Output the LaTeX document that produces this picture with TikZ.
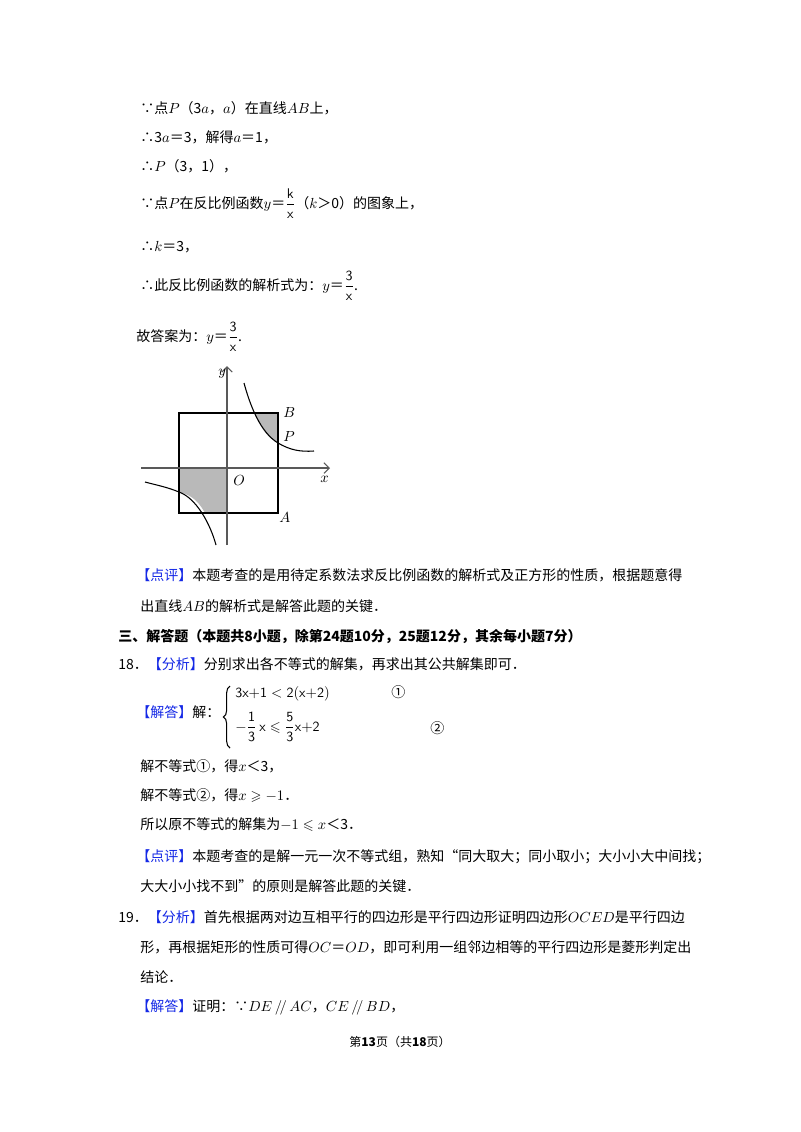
\documentclass[tikz,border=0pt]{standalone}
\usepackage{amsmath,amssymb}
\usepackage{fontspec}
\usetikzlibrary{arrows.meta,decorations.pathreplacing}
\setmainfont{Noto Sans CJK SC}
\definecolor{kb}{RGB}{20,40,230}
\tikzset{txt/.style={anchor=base west,inner sep=0pt,font=\fontsize{10.5pt}{12pt}\selectfont}}
\newcommand{\bk}[1]{\textcolor{kb}{【#1】}}
\begin{document}
\begin{tikzpicture}[x=0.75pt,y=-0.75pt]
\useasboundingbox[fill=white] (0,0) rectangle (800,1132);
\node[txt] (t1) at (140,113) {∵点$P$（3$a$，$a$）在直线$AB$上，};
\node[txt] (t2) at (140,142) {∴3$a$＝3，解得$a$＝1，};
\node[txt] (t3) at (140,171) {∴$P$（3，1），};
\node[txt] (t4) at (140,208) {∵点$P$在反比例函数$y$＝$\dfrac{\mathsf{k}}{\mathsf{x}}$（$k$＞0）的图象上，};
\node[txt] (t5) at (140,251) {∴$k$＝3，};
\node[txt] (t6) at (140,290) {∴此反比例函数的解析式为：$y$＝$\dfrac{\mathsf{3}}{\mathsf{x}}$.};
\node[txt] (t7) at (136,341) {故答案为：$y$＝$\dfrac{\mathsf{3}}{\mathsf{x}}$.};
% figure
\fill[gray!55] (254,413) .. controls (262,430) and (268,438) .. (278,443) -- (278,413) -- cycle;
\fill[gray!55] (179,468) -- (227,468) -- (227,513) -- (205,513) .. controls (199,502) and (192,495) .. (179,492) -- cycle;
\draw[thick] (179,413) rectangle (278,513);
\draw[gray!70!black,thick,-{Straight Barb[length=4pt]}] (141,468) -- (330,468);
\draw[gray!70!black,thick,-{Straight Barb[length=4pt]}] (227,545) -- (227,366);
\draw[thick] (244,383) .. controls (250,405) and (260,432) .. (278,443) .. controls (290,450) and (300,452) .. (314,451);
\draw[thick] (216,545) .. controls (210,523) and (196,498) .. (179,492) .. controls (167,487) and (156,485) .. (145,482);
\node[txt] (ly) at (218,375) {$y$};
\node[txt] (lB) at (283,417) {$B$};
\node[txt] (lP) at (283,441) {$P$};
\node[txt] (lO) at (233,485) {$O$};
\node[txt] (lx) at (320,482) {$x$};
\node[txt] (lA) at (279,522) {$A$};
% text
\node[txt] (t8) at (136,580) {\bk{点评}本题考查的是用待定系数法求反比例函数的解析式及正方形的性质，根据题意得};
\node[txt] (t9) at (140,611) {出直线$AB$的解析式是解答此题的关键．};
\node[txt,font=\fontsize{10.5pt}{12pt}\selectfont\bfseries] (t10) at (118,641) {三、解答题（本题共8小题，除第24题10分，25题12分，其余每小题7分）};
\node[txt] (t11) at (118,669) {18．\bk{分析}分别求出各不等式的解集，再求出其公共解集即可．};
\node[txt] (t12) at (136,717) {\bk{解答}解：};
\coordinate (bt) at (230,686);
\coordinate (bb) at (230,748);
\draw[thick,decorate,decoration={brace,amplitude=5pt}] (bb) -- (bt);
\node[txt] (i1) at (235,697) {$\mathsf{3x{+}1}<\mathsf{2(x{+}2)}$};
\node[txt] (c1) at (391,697) {①};
\node[txt] (i2) at (235,731) {$-\dfrac{\mathsf{1}}{\mathsf{3}}\,\mathsf{x}\leqslant\dfrac{\mathsf{5}}{\mathsf{3}}\mathsf{x{+}2}$};
\node[txt] (c2) at (430,733) {②};
\node[txt] (t13) at (140,771) {解不等式①，得$x$＜3，};
\node[txt] (t14) at (140,800) {解不等式②，得$x\geqslant-1$．};
\node[txt] (t15) at (140,829) {所以原不等式的解集为$-1\leqslant x$＜3．};
\node[txt] (t16) at (136,861) {\bk{点评}本题考查的是解一元一次不等式组，熟知“同大取大；同小取小；大小小大中间找；};
\node[txt] (t17) at (140,891) {大大小小找不到”的原则是解答此题的关键．};
\node[txt] (t18) at (118,922) {19．\bk{分析}首先根据两对边互相平行的四边形是平行四边形证明四边形$OCED$是平行四边};
\node[txt] (t19) at (140,952) {形，再根据矩形的性质可得$OC$＝$OD$，即可利用一组邻边相等的平行四边形是菱形判定出};
\node[txt] (t20) at (140,982) {结论．};
\node[txt] (t21) at (136,1011) {\bk{解答}证明：∵$DE\,/\!/\,AC$，$CE\,/\!/\,BD$，};
\node[inner sep=0pt,font=\fontsize{9pt}{11pt}\selectfont] (pg) at (400,1042) {第\textbf{13}页（共\textbf{18}页）};
\end{tikzpicture}
\end{document}
